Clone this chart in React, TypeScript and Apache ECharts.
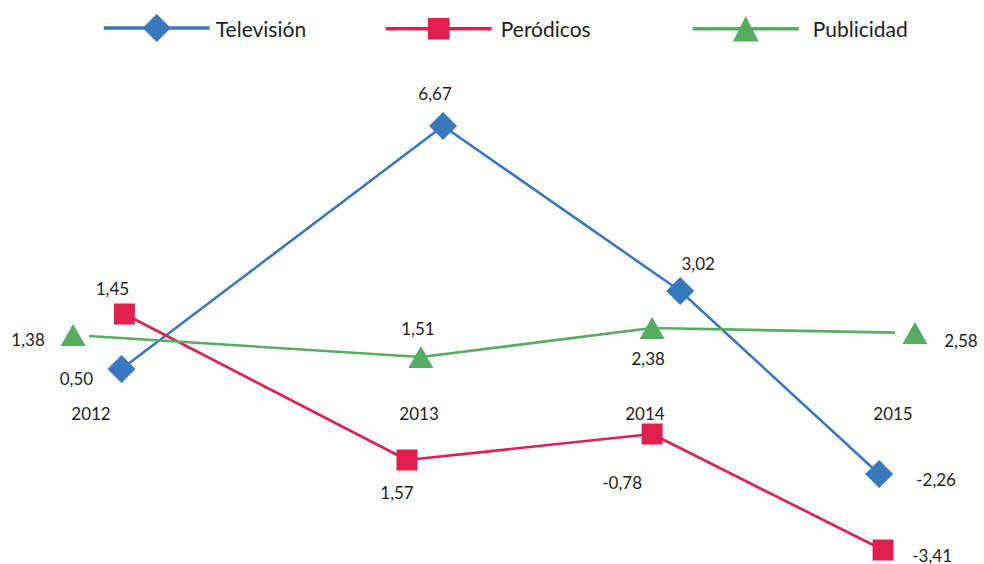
import React, { useEffect, useRef } from "react";
import * as echarts from "echarts";

// ---- data ----
const yearLabels = ["2012", "2013", "2014", "2015"];
const yearX = [2012.0, 2013.227, 2014.072, 2015.0];
const yearY = [-0.6, -0.6, -0.6, -0.6];

const tvName = "Televisión";
const tvX = [2012.114, 2013.317, 2014.204, 2014.948];
const tvY = [0.5, 6.575, 2.45, -2.125];
const tvLabels = ["0,50", "6,67", "3,02", "-2,26"];

const perName = "Peródicos";
const perX = [2012.125, 2013.182, 2014.099, 2014.963];
const perY = [1.875, -1.775, -1.125, -4.025];
const perLabels = ["1,45", "1,57", "-0,78", "-3,41"];

const pubName = "Publicidad";
const pubX = [2011.933, 2013.234, 2014.099, 2015.082];
const pubY = [1.35, 0.8, 1.525, 1.4];
const pubLabels = ["1,38", "1,51", "2,38", "2,58"];

// ---- styling (label offsets in px relative to marker centre) ----
const tvOffsets = [[-45, 9], [-8, -33], [18, -28], [57, 5]];
const perOffsets = [[-12, -26], [-10, 32], [-30, 48], [49, 5]];
const pubOffsets = [[-45, 4], [-3, -29], [-4, 30], [46, 7]];

const BLUE = "#3a78bd";
const RED = "#e01f4f";
const GREEN = "#56ad62";
const TEXT = "#1e1e1e";
const FONT = "Lato, 'Noto Sans', sans-serif";

function buildData(xs: number[], ys: number[], labels: string[], offsets: number[][]) {
  return xs.map((x, i) => ({
    value: [x, ys[i]],
    name: labels[i],
    label: { offset: offsets[i] },
  }));
}

export default function App() {
  const ref = useRef<HTMLDivElement>(null);
  useEffect(() => {
    if (!ref.current) return;
    const chart = echarts.init(ref.current, undefined, { renderer: "svg" });
    const labelBase = {
      show: true,
      position: "inside" as const,
      color: TEXT,
      fontSize: 17,
      fontFamily: FONT,
      formatter: (p: any) => p.name,
    };
    const lineSeries = (
      name: string,
      color: string,
      symbol: string,
      symbolSize: any,
      data: any[]
    ) => ({
      type: "line",
      name,
      data,
      clip: false,
      symbol,
      symbolSize,
      showAllSymbol: true,
      lineStyle: { color, width: 2.6 },
      itemStyle: { color },
      label: labelBase,
      z: 3,
    });
    const legendText = (padLeft: number) => ({
      color: TEXT,
      fontSize: 21,
      fontFamily: FONT,
      padding: [0, 0, 0, padLeft],
    });
    const legendBase = {
      orient: "horizontal" as const,
      itemWidth: 106,
      padding: 0,
      lineStyle: { width: 3.5 },
      selectedMode: false,
    };
    chart.setOption({
      animation: false,
      backgroundColor: "#ffffff",
      grid: { left: 91, right: 91, top: 109, height: 450 },
      xAxis: {
        type: "value",
        min: 2012,
        max: 2015,
        show: false,
      },
      yAxis: {
        type: "value",
        min: -4.25,
        max: 7,
        show: false,
      },
      legend: [
        { ...legendBase, data: [tvName], left: 102, top: 14, itemHeight: 35, textStyle: legendText(1) },
        { ...legendBase, data: [perName], left: 384, top: 18, itemHeight: 27, textStyle: legendText(4) },
        { ...legendBase, data: [pubName], left: 691, top: 16, itemHeight: 32, textStyle: legendText(9) },
      ],
      series: [
        {
          type: "scatter",
          name: "years",
          data: yearX.map((x, i) => ({ value: [x, yearY[i]], name: yearLabels[i] })),
          symbolSize: 1,
          itemStyle: { color: "#ffffff", opacity: 1 },
          label: { ...labelBase, color: TEXT, opacity: 1 },
          emphasis: { disabled: true },
          clip: false,
          silent: true,
          z: 1,
        },
        lineSeries(tvName, BLUE, "diamond", 28, buildData(tvX, tvY, tvLabels, tvOffsets)),
        lineSeries(perName, RED, "rect", 21, buildData(perX, perY, perLabels, perOffsets)),
        lineSeries(pubName, GREEN, "triangle", [25, 22], buildData(pubX, pubY, pubLabels, pubOffsets)),
      ],
    });
    return () => chart.dispose();
  }, []);
  return (
    <div
      ref={ref}
      style={{ position: "absolute", left: 0, top: 0, width: 984, height: 564, background: "#fff" }}
    />
  );
}
